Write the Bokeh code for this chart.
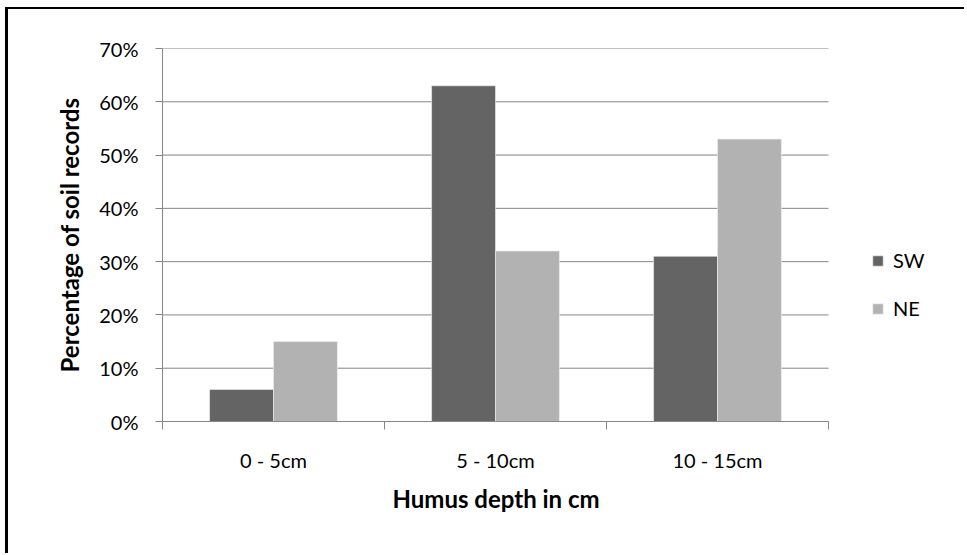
from bokeh.plotting import figure
from bokeh.layouts import column
from bokeh.models import (FixedTicker, Legend, LegendItem, NumeralTickFormatter, Title)
from bokeh.embed import file_html
from bokeh.resources import INLINE

categories = ["0 - 5cm", "5 - 10cm", "10 - 15cm"]
series_names = ["SW", "NE"]
sw_values = [0.06, 0.63, 0.31]
ne_values = [0.15, 0.32, 0.53]
series_colors = ["#646464", "#b2b2b2"]
y_ticks = [0, 0.1, 0.2, 0.3, 0.4, 0.5, 0.6, 0.7]
x_title = "Humus depth in cm"
y_title = "Percentage of soil records"

FONT = "Lato"
TICK_FS = "20px"
TITLE_FS = "24px"
n = len(categories)
bar_w = 0.288

W, H = 956, 544
ML, MR, MT, MB = 154, 10, 39, 132
PLOT_W = 666  # pixel width of the category area
x_end = n * (W - MR - ML) / PLOT_W

p = figure(width=W, height=H, output_backend="svg", toolbar_location=None,
           x_range=(0, x_end), y_range=(0, 0.7),
           min_border_left=ML, min_border_right=MR,
           min_border_top=MT, min_border_bottom=MB)
p.outline_line_color = None
p.background_fill_color = "white"
p.border_fill_color = "white"

# horizontal gridlines over the category area only
p.segment(x0=[0] * (len(y_ticks) - 1), x1=[n] * (len(y_ticks) - 1),
          y0=y_ticks[1:], y1=y_ticks[1:], line_color="#868686", line_width=1)

renderers = []
for k, (vals, col) in enumerate(zip([sw_values, ne_values], series_colors)):
    xs = [i + 0.5 + (k - 0.5) * bar_w for i in range(n)]
    r = p.vbar(x=xs, top=vals, width=bar_w, bottom=0, fill_color=col,
               line_color="#f0f0f0", line_width=0.6)
    renderers.append(r)

# y axis
p.yaxis.ticker = FixedTicker(ticks=y_ticks)
p.yaxis.formatter = NumeralTickFormatter(format="0%")
p.yaxis.axis_line_color = "#868686"
p.yaxis.major_tick_line_color = "#868686"
p.yaxis.major_tick_out = 7
p.yaxis.major_tick_in = 0
p.yaxis.minor_tick_line_color = None
p.yaxis.major_label_text_font = FONT
p.yaxis.major_label_text_font_size = TICK_FS
p.yaxis.major_label_text_color = "#000000"
p.yaxis.major_label_standoff = 17
p.yaxis.axis_label = y_title
p.yaxis.axis_label_text_font = FONT
p.yaxis.axis_label_text_font_style = "bold"
p.yaxis.axis_label_text_font_size = TITLE_FS
p.yaxis.axis_label_text_color = "#000000"
p.yaxis.axis_label_standoff = 12

# x axis
p.xaxis.bounds = (0, n)
p.xaxis.ticker = FixedTicker(ticks=[i + 0.5 for i in range(n)],
                             minor_ticks=list(range(n + 1)))
p.xaxis.major_label_overrides = {i + 0.5: c for i, c in enumerate(categories)}
p.xaxis.axis_line_color = "#868686"
p.xaxis.major_tick_line_color = None
p.xaxis.major_tick_out = 0
p.xaxis.major_tick_in = 0
p.xaxis.minor_tick_line_color = "#868686"
p.xaxis.minor_tick_out = 8
p.xaxis.minor_tick_in = 0
p.xaxis.major_label_text_font = FONT
p.xaxis.major_label_text_font_size = TICK_FS
p.xaxis.major_label_text_color = "#000000"
p.xaxis.major_label_standoff = 18

xt = Title(text=x_title, align="left", offset=230, standoff=14,
           text_font=FONT, text_font_style="bold", text_font_size=TITLE_FS,
           text_color="#000000")
p.add_layout(xt, "below")

p.xgrid.grid_line_color = None
p.ygrid.grid_line_color = None

legend = Legend(items=[LegendItem(label=s, renderers=[r]) for s, r in zip(series_names, renderers)],
                location=(709, 101), orientation="vertical",
                glyph_width=13, glyph_height=13, label_height=20,
                spacing=24, padding=0, margin=0, label_standoff=9,
                label_text_font=FONT, label_text_font_size=TICK_FS,
                label_text_color="#000000",
                border_line_color=None, background_fill_alpha=0)
p.add_layout(legend)

page = column(p, styles={"margin-left": "5px", "margin-top": "7px",
                         "border-left": "3px solid black",
                         "border-top": "2px solid black"})

open("out.html", "w").write(file_html(page, INLINE))
